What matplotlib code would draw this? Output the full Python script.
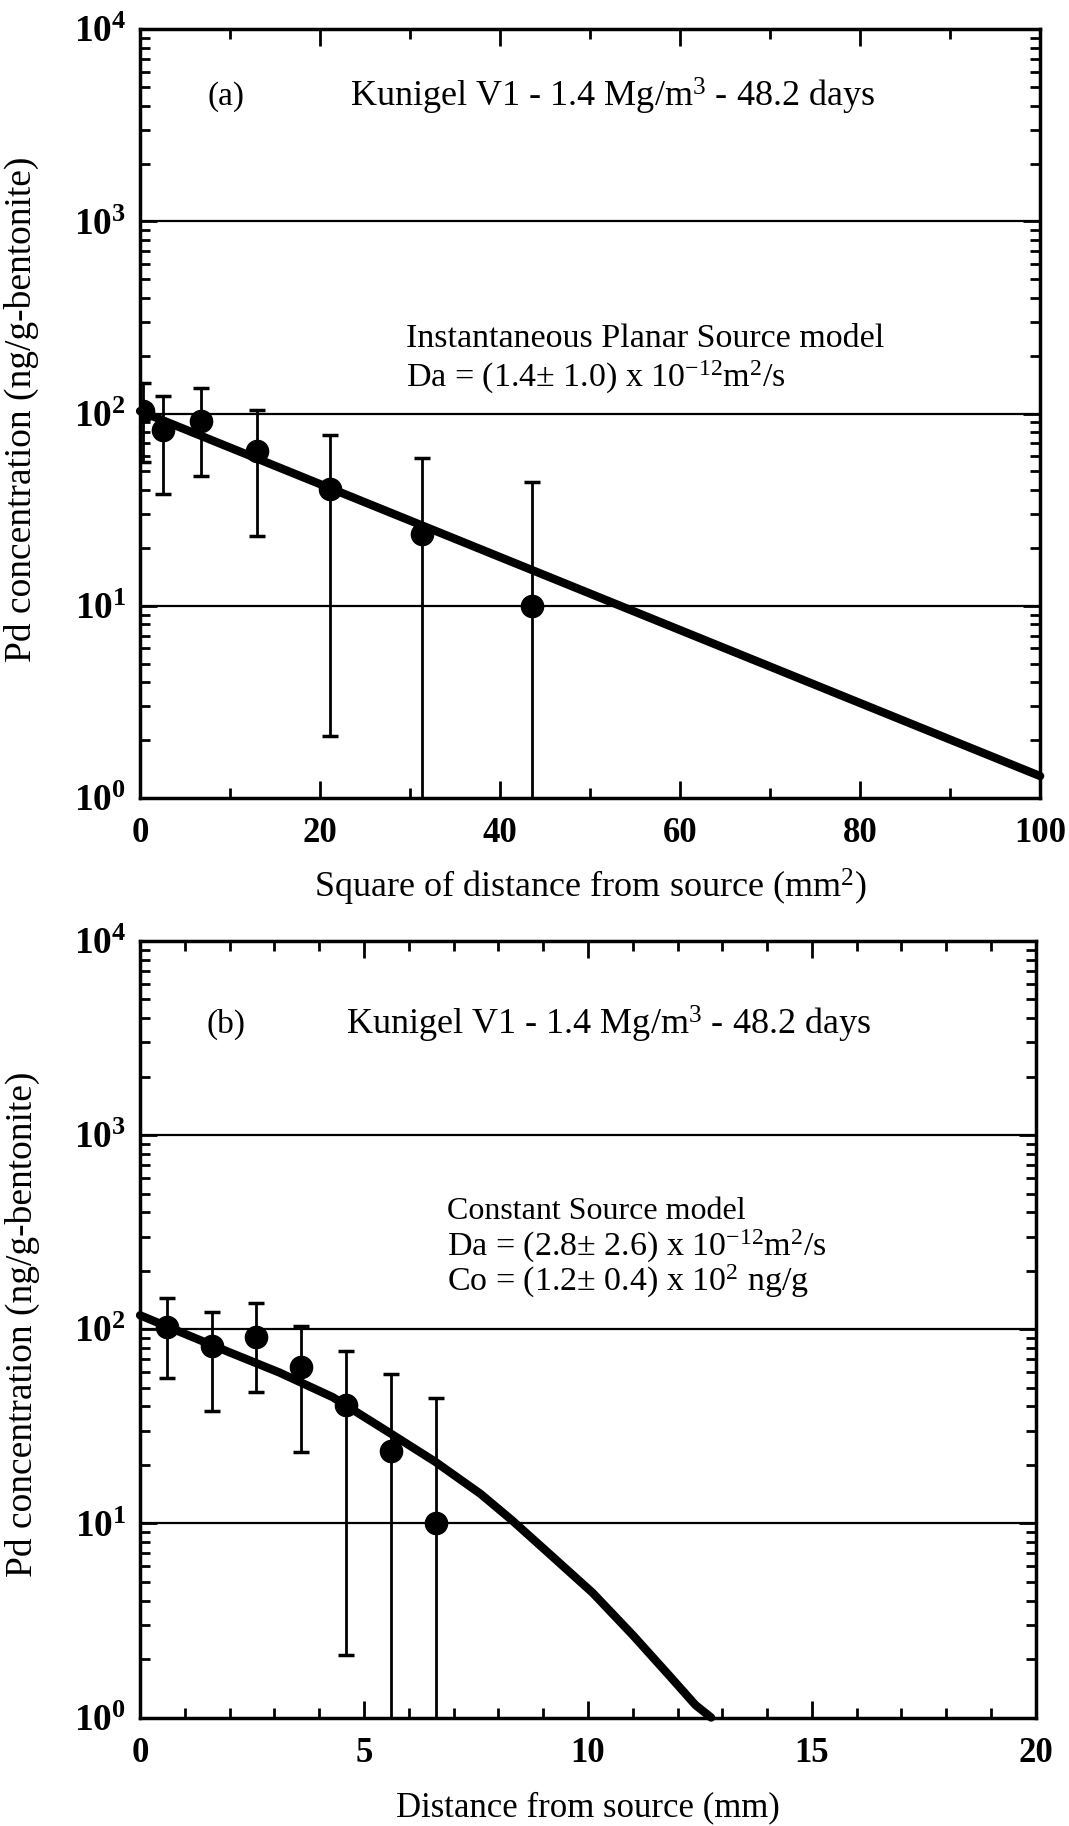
import math
import matplotlib
matplotlib.use("Agg")
import matplotlib.pyplot as plt
from matplotlib.ticker import FixedLocator, LogLocator, FuncFormatter, NullFormatter

plt.rcParams['font.family'] = ['Liberation Serif', 'DejaVu Serif']
plt.rcParams['mathtext.fontset'] = 'custom'
plt.rcParams['mathtext.rm'] = 'Liberation Serif'
plt.rcParams['mathtext.it'] = 'Liberation Serif:italic'
plt.rcParams['mathtext.bf'] = 'Liberation Serif:bold'

# --- measured data (shared by both panels) ---
distance_mm = [0.6, 1.6, 2.6, 3.6, 4.6, 5.6, 6.6]
dist_sq_mm2 = [0.36, 2.56, 6.76, 12.96, 21.16, 31.36, 43.56]
conc = [103, 82, 91, 64, 40.5, 23.5, 10]
err_high = [145, 123, 136, 104, 77, 59, 44]
err_low = [56, 38, 47.5, 23.2, 2.1, 0.01, 0.01]  # last two run below the axis

# --- model curves ---
ips_x = [0, 100]
ips_y = [103, 1.3]
cs_x = [0, 0.75, 2.0, 3.1, 4.3, 5.6, 6.6, 7.6, 8.3, 9.1, 10.1, 11.0, 11.8, 12.4, 12.75]
cs_y = [118, 100, 76, 60, 44.7, 29, 20.7, 14.2, 10.4, 7.1, 4.4, 2.66, 1.66, 1.16, 1.0]

title_txt = "Kunigel V1 - 1.4 Mg/m$^3$ - 48.2 days"

fig = plt.figure(figsize=(10.69, 18.26), dpi=100)
ax1 = fig.add_axes([0.131, 0.563, 0.842, 0.421])
ax2 = fig.add_axes([0.131, 0.0594, 0.838, 0.4253])

ylab = FuncFormatter(lambda v, p: r'$\mathbf{10^{%d}}$' % round(math.log10(v)))


def style(ax, xmax, xmajor, xminor):
    ax.set_yscale('log')
    ax.set_ylim(1, 1e4)
    ax.set_xlim(0, xmax)
    ax.xaxis.set_major_locator(FixedLocator(xmajor))
    ax.xaxis.set_minor_locator(FixedLocator(xminor))
    ax.yaxis.set_major_locator(LogLocator(base=10, numticks=10))
    ax.yaxis.set_minor_locator(LogLocator(base=10, subs=range(2, 10), numticks=20))
    ax.yaxis.set_major_formatter(ylab)
    ax.yaxis.set_minor_formatter(NullFormatter())
    ax.tick_params(which='both', direction='in', top=True, right=True, width=2)
    ax.tick_params(which='major', length=12)
    ax.tick_params(which='minor', length=7)
    ax.tick_params(axis='y', labelsize=27, pad=10)
    ax.tick_params(axis='x', labelsize=25, pad=14)
    for lab in ax.get_xticklabels():
        lab.set_fontweight('bold')
    for s in ax.spines.values():
        s.set_linewidth(2.5)
    for yv in [10, 100, 1000]:
        ax.axhline(yv, color='black', lw=1.6, zorder=1)
    ax.set_ylabel("Pd concentration (ng/g-bentonite)", fontsize=27)
    ax.yaxis.set_label_coords(-0.112, 0.506)


# --- panel (a) ---
style(ax1, 100, [0, 20, 40, 60, 80, 100], [10, 30, 50, 70, 90])
ax1.plot(ips_x, ips_y, color='black', lw=6, solid_capstyle='round', zorder=3, clip_on=False)
ax1.errorbar(dist_sq_mm2, conc,
             yerr=[[c - l for c, l in zip(conc, err_low)], [h - c for c, h in zip(conc, err_high)]],
             fmt='o', color='black', ms=16, elinewidth=2, capsize=6, capthick=2.5, zorder=4, clip_on=True)
ax1.set_xlabel("Square of distance from source (mm$^2$)", fontsize=26, labelpad=12)
ax1.text(0.075, 0.912, "(a)", transform=ax1.transAxes, fontsize=24, va='center')
ax1.text(0.233, 0.912, title_txt, transform=ax1.transAxes, fontsize=26, va='center')
ax1.text(0.295, 0.597, "Instantaneous Planar Source model", transform=ax1.transAxes, fontsize=24.5, va='center')
ax1.text(0.295, 0.547, "Da = (1.4$\\pm$ 1.0) x 10$^{-12}$m$^2$/s", transform=ax1.transAxes, fontsize=24.5, va='center')

# --- panel (b) ---
style(ax2, 20, [0, 5, 10, 15, 20], [v for v in range(1, 20) if v % 5])
ax2.plot(cs_x, cs_y, color='black', lw=6, solid_capstyle='round', zorder=3, clip_on=False)
ax2.errorbar(distance_mm, conc,
             yerr=[[c - l for c, l in zip(conc, err_low)], [h - c for c, h in zip(conc, err_high)]],
             fmt='o', color='black', ms=16, elinewidth=2, capsize=6, capthick=2.5, zorder=4, clip_on=True)
ax2.set_xlabel("Distance from source (mm)", fontsize=25, labelpad=15)
ax2.text(0.074, 0.892, "(b)", transform=ax2.transAxes, fontsize=24, va='center')
ax2.text(0.23, 0.892, title_txt, transform=ax2.transAxes, fontsize=26, va='center')
ax2.text(0.343, 0.652, "Constant Source model", transform=ax2.transAxes, fontsize=23, va='center')
ax2.text(0.343, 0.607, "Da = (2.8$\\pm$ 2.6) x 10$^{-12}$m$^2$/s", transform=ax2.transAxes, fontsize=24.5, va='center')
ax2.text(0.343, 0.562, "Co = (1.2$\\pm$ 0.4) x 10$^2$ ng/g", transform=ax2.transAxes, fontsize=24.5, va='center')

fig.savefig("out.png", dpi=100)
